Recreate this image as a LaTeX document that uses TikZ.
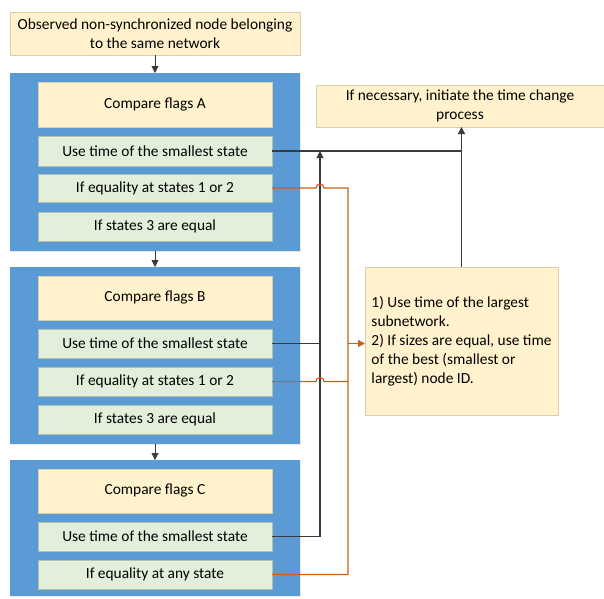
\documentclass[tikz,border=0pt]{standalone}
\usepackage{fontspec}
\setmainfont{Carlito}
\usetikzlibrary{arrows.meta,shadows,calc}
\definecolor{panel}{HTML}{5B9BD5}
\definecolor{cream}{HTML}{FFF2CC}
\definecolor{mygreen}{HTML}{E2EFDA}
\definecolor{orng}{HTML}{C9601C}
\definecolor{dk}{HTML}{3A3A3A}
\begin{document}
\begin{tikzpicture}[x=1pt,y=-1pt,
  base/.style={inner sep=0pt,outer sep=0pt,font=\fontsize{15.4}{19}\selectfont,align=center},
  creambox/.style={base,fill=cream,draw=cream!85!black,line width=0.3pt,drop shadow={opacity=0.18,shadow xshift=1.2pt,shadow yshift=-1.2pt}},
  greenbox/.style={base,fill=mygreen,draw=mygreen!80!black,line width=0.3pt,minimum width=234pt,drop shadow={opacity=0.18,shadow xshift=1.2pt,shadow yshift=-1.2pt}},
  panelbox/.style={base,fill=panel,minimum width=290pt,drop shadow={opacity=0.18,shadow xshift=1.2pt,shadow yshift=-1.2pt}},
  blk/.style={draw=dk,line width=1.2pt},
  org/.style={draw=orng,line width=1.2pt},
  tip/.style={-{Triangle[length=7pt,width=7pt]}}
]
\useasboundingbox (0,0) rectangle (604,598);

\node[creambox,minimum width=290pt,minimum height=43pt] (top) at (155,33.5) {Observed non-synchronized node belonging\\to the same network};

% Panel A
\node[panelbox,minimum height=178pt] (pA) at (155,162) {};
\node[creambox,minimum width=234pt,minimum height=45pt] (cmpA) at (155,104.5) {Compare flags A};
\node[greenbox,minimum height=30pt] (useA) at (155,151) {Use time of the smallest state};
\node[greenbox,minimum height=28pt] (eqA) at (155,188) {If equality at states 1 or 2};
\node[greenbox,minimum height=29pt] (s3A) at (155,226.5) {If states 3 are equal};

% Panel B
\node[panelbox,minimum height=177pt] (pB) at (155,355.5) {};
\node[creambox,minimum width=234pt,minimum height=44pt] (cmpB) at (155,298) {Compare flags B};
\node[greenbox,minimum height=29pt] (useB) at (155,343.5) {Use time of the smallest state};
\node[greenbox,minimum height=29pt] (eqB) at (155,381.5) {If equality at states 1 or 2};
\node[greenbox,minimum height=29pt] (s3B) at (155,419.5) {If states 3 are equal};

% Panel C
\node[panelbox,minimum height=136pt] (pC) at (155,528) {};
\node[creambox,minimum width=234pt,minimum height=44pt] (cmpC) at (155,491) {Compare flags C};
\node[greenbox,minimum height=29pt] (useC) at (155,536.5) {Use time of the smallest state};
\node[greenbox,minimum height=29pt] (eqC) at (155,574.5) {If equality at any state};

% Right boxes
\node[creambox,minimum width=288pt,minimum height=42pt] (res) at (460,106) {If necessary, initiate the time change\\process};
\node[creambox,minimum width=193pt,minimum height=148pt,align=left] (rule) at (461.5,341) {1) Use time of the largest\\subnetwork.\\2) If sizes are equal, use time\\of the best (smallest or\\largest) node ID.};

\coordinate (vx) at (320,0);
\coordinate (ox) at (348,0);

% vertical flow arrows
\draw[blk,tip,line width=0.9pt] (top.south) -- (pA.north);
\draw[blk,tip,line width=0.9pt] (pA.south) -- (pB.north);
\draw[blk,tip,line width=0.9pt] (pB.south) -- (pC.north);

% black connectors
\draw[blk] (useA.east) -- (useA.east -| rule.north);
\draw[blk,tip] (rule.north) -- (rule.north |- res.south);
\draw[blk,tip] (useC.east) -- (useC.east -| vx) -- (useA.east -| vx);
\draw[blk] (useB.east) -- (useB.east -| vx);

% orange connectors
\draw[org] (eqA.east) -- ($(eqA.east -| vx)+(-4,0)$) arc[start angle=180,end angle=0,radius=4pt] -- (eqA.east -| ox) -- (eqC.east -| ox) -- (eqC.east);
\draw[org] (eqB.east) -- ($(eqB.east -| vx)+(-4,0)$) arc[start angle=180,end angle=0,radius=4pt] -- (eqB.east -| ox);
\draw[org,tip] (useB.east -| ox) -- (rule.west |- useB.east);
\end{tikzpicture}
\end{document}
